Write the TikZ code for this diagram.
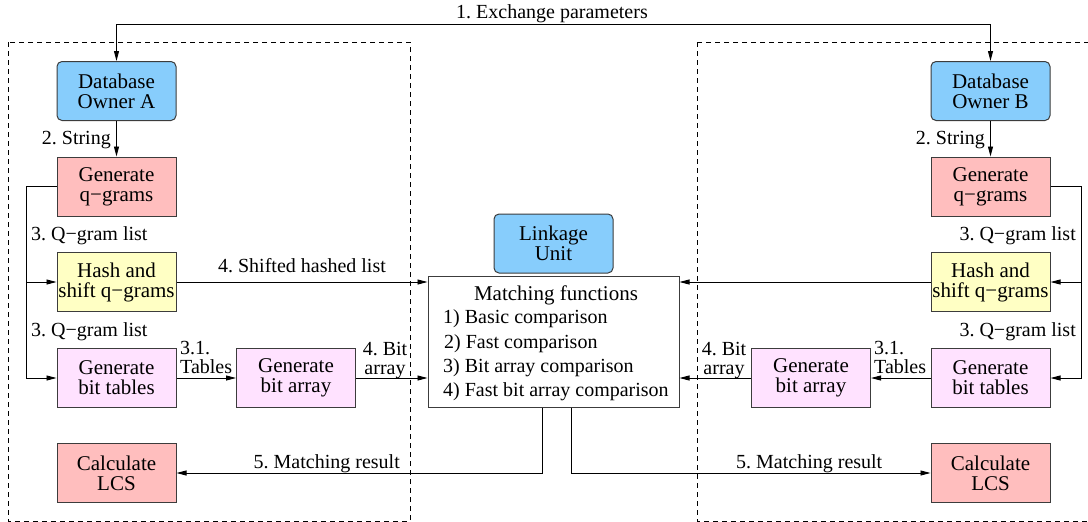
\documentclass[tikz,border=0pt]{standalone}
\usepackage{fontspec}
\setmainfont{Liberation Serif}
\usetikzlibrary{arrows.meta}

\definecolor{ownerblue}{RGB}{135,205,252}
\definecolor{gramred}{RGB}{255,190,190}
\definecolor{hashyellow}{RGB}{255,255,196}
\definecolor{bitviolet}{RGB}{255,226,255}
\definecolor{boxline}{RGB}{60,60,60}

\begin{document}
\frenchspacing
\begin{tikzpicture}[x=1pt, y=-1pt,
  >={Triangle[length=10pt,width=5pt]},
  proc/.style={draw=boxline, line width=1pt, minimum width=119pt,
    minimum height=59pt, inner sep=0pt, align=center,
    font=\fontsize{21}{20}\selectfont},
  owner/.style={proc, rounded corners=5pt, fill=ownerblue},
  gram/.style={proc, fill=gramred},
  hashbox/.style={proc, fill=hashyellow},
  bitbox/.style={proc, fill=bitviolet},
  lbl/.style={inner sep=0pt, font=\fontsize{20}{18.5}\selectfont},
  wire/.style={line width=0.9pt},
  zone/.style={line width=0.9pt, dash pattern=on 5pt off 4pt}]

\useasboundingbox (0,0) rectangle (1088,522);

% the two database owners' domains
\draw[zone] (8,42) rectangle (410,521);
\draw[zone] (697,42) rectangle (1098,521);

% owner A
\node[owner]   (dbA)  at (116.5,91) {Database\\Owner A};
\node[gram]    (qgA)  at (116.5,186.5)  {Generate\\q−grams};
\node[hashbox] (hsA)  at (116.5,282)  {Hash and\\shift q−grams};
\node[bitbox]  (btA)  at (116.5,378)  {Generate\\bit tables};
\node[bitbox]  (baA)  at (296,378)    {Generate\\bit array};
\node[gram]    (lcsA) at (116.5,473)  {Calculate\\LCS};

% owner B
\node[owner]   (dbB)  at (990.5,91) {Database\\Owner B};
\node[gram]    (qgB)  at (990.5,186.5)  {Generate\\q−grams};
\node[hashbox] (hsB)  at (990.5,282)  {Hash and\\shift q−grams};
\node[bitbox]  (btB)  at (990.5,378)  {Generate\\bit tables};
\node[bitbox]  (baB)  at (811,378)    {Generate\\bit array};
\node[gram]    (lcsB) at (990.5,473)  {Calculate\\LCS};

% linkage unit
\node[owner] (lu) at (553.5,243.5) {Linkage\\Unit};
\node[draw=boxline, line width=1pt, fill=white, minimum width=251pt,
      minimum height=131pt, inner sep=0pt] (match) at (553.5,341.5) {};
\node[lbl, font=\fontsize{21}{20}\selectfont, anchor=base] (mt) at (556,300) {Matching functions};
\node[lbl, anchor=base west] (m1) at (443,323) {1) Basic comparison};
\node[lbl, anchor=base west] (m2) at (444,348) {2) Fast comparison};
\node[lbl, anchor=base west] (m3) at (443,372) {3) Bit array comparison};
\node[lbl, anchor=base west] (m4) at (443,396) {4) Fast bit array comparison};

% 1. parameter exchange
\coordinate (exA) at (116.5,24);
\coordinate (exB) at (990.5,24);
\draw[wire,<->] (dbA.north) -- (exA) -- (exB) -- (dbB.north);
\node[lbl, anchor=base] (exl) at (552,18.5) {1. Exchange parameters};

% 2. strings
\draw[wire,->] (dbA) -- (qgA);
\draw[wire,->] (dbB) -- (qgB);
\node[lbl, anchor=base east] (stA) at (111,144) {2. String};
\node[lbl, anchor=base east] (stB) at (985,144) {2. String};

% 3. q-gram lists
\coordinate (busA) at (26,186);
\coordinate (busB) at (1081,186);
\draw[wire] (busA -| qgA.west) -- (busA);
\draw[wire,->] (busA) |- (hsA.west);
\draw[wire,->] (busA) |- (btA.west);
\draw[wire] (busB -| qgB.east) -- (busB);
\draw[wire,->] (busB) |- (hsB.east);
\draw[wire,->] (busB) |- (btB.east);
\node[lbl, anchor=base west] (qlA1) at (31,240.5) {3. Q−gram list};
\node[lbl, anchor=base west] (qlA2) at (31,336.5) {3. Q−gram list};
\node[lbl, anchor=base east] (qlB1) at (1076,240.5) {3. Q−gram list};
\node[lbl, anchor=base east] (qlB2) at (1076,336.5) {3. Q−gram list};

% 3.1. tables
\draw[wire,->] (btA) -- (baA);
\draw[wire,->] (btB) -- (baB);
\node[lbl, align=left, anchor=north west] (tbA) at (180,341.5) {3.1.\\Tables};
\node[lbl, align=left, anchor=north west] (tbB) at (874,341.5) {3.1.\\Tables};

% 4. encoded data to the linkage unit
\draw[wire,->] (hsA.east) -- (hsA.east -| match.west);
\draw[wire,->] (hsB.west) -- (hsB.west -| match.east);
\node[lbl, anchor=base] (shl) at (302,272.7) {4. Shifted hashed list};
\draw[wire,->] (baA) -- (baA -| match.west);
\draw[wire,->] (baB) -- (baB -| match.east);
\node[lbl, align=center, anchor=north] (bitA) at (385,342.5) {4. Bit\\array};
\node[lbl, align=center, anchor=north] (bitB) at (724,342.5) {4. Bit\\array};

% 5. matching results
\draw[wire,->] ([xshift=-11.5pt]match.south) |- (lcsA.east);
\draw[wire,->] ([xshift=18pt]match.south) |- (lcsB.west);
\node[lbl, anchor=base east] (resA) at (400,468) {5. Matching result};
\node[lbl, anchor=base west] (resB) at (736,468) {5. Matching result};

\end{tikzpicture}
\end{document}
